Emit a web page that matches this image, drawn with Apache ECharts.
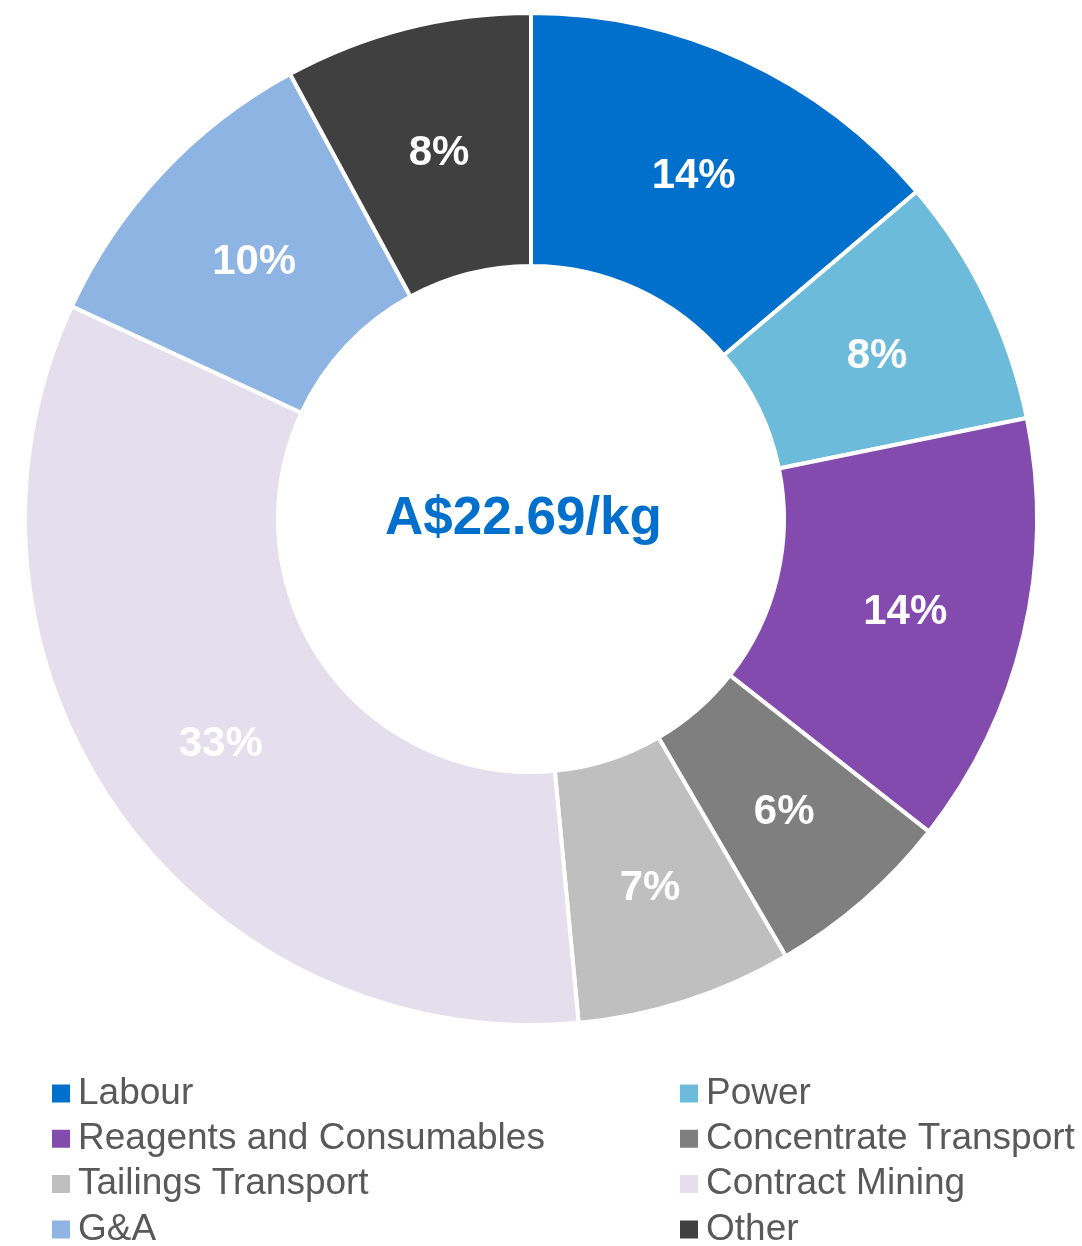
<!DOCTYPE html>
<html>
<head>
<meta charset="utf-8">
<script src="https://cdn.jsdelivr.net/npm/echarts@6/dist/echarts.min.js"></script>
<style>
  html, body { margin: 0; padding: 0; background: #fff; }
  #chart { width: 1082px; height: 1246px; }
</style>
</head>
<body>
<div id="chart"></div>
<script>
// cost breakdown, percent of total
const categories = ['Labour', 'Power', 'Reagents and Consumables', 'Concentrate Transport',
  'Tailings Transport', 'Contract Mining', 'G&A', 'Other']
const shares = [13.8, 8.0, 13.8, 6.0, 6.9, 33.4, 10.2, 7.9]
const colors = ['#0070CC', '#6DBBDA', '#834BAE', '#7F7F7F',
  '#BFBFBF', '#E4DFEC', '#8EB4E3', '#404040']
const centerLabel = 'A$22.69/kg'

const leftItems = [categories[0], categories[2], categories[4], categories[6]]
const rightItems = [categories[1], categories[3], categories[5], categories[7]]

const font = 'Liberation Sans, Arial, sans-serif'

const chart = echarts.init(document.getElementById('chart'))

// legend icon is drawn a bit smaller than its box, so the box is oversized
const legendBase = {
  orient: 'vertical',
  top: 1075,
  height: 240,
  padding: 0,
  itemWidth: 20,
  itemHeight: 20,
  itemGap: 8.3,
  icon: 'rect',
  textStyle: {
    fontFamily: font,
    fontSize: 37,
    color: '#595959',
    padding: [0, 0, 0, 2]
  }
}

chart.setOption({
  animation: false,
  color: colors,
  legend: [
    Object.assign({}, legendBase, { left: 50, data: leftItems }),
    Object.assign({}, legendBase, { left: 678, data: rightItems })
  ],
  graphic: [{
    type: 'text',
    left: 385,
    top: 493,
    style: {
      text: centerLabel,
      fontFamily: font,
      fontSize: 53,
      fontWeight: 'bold',
      fill: '#0070CC'
    }
  }],
  series: [{
    type: 'pie',
    center: [531, 519],
    radius: [253, 506],
    startAngle: 90,
    clockwise: true,
    avoidLabelOverlap: false,
    itemStyle: {
      borderColor: '#ffffff',
      borderWidth: 4
    },
    label: {
      show: true,
      position: 'inside',
      offset: [2, 5],
      fontFamily: font,
      fontSize: 42,
      fontWeight: 'bold',
      color: '#ffffff',
      formatter: p => Math.round(p.value) + '%'
    },
    labelLine: { show: false },
    emphasis: { disabled: true },
    data: categories.map((name, i) => ({ name: name, value: shares[i] }))
  }]
})
</script>
</body>
</html>
